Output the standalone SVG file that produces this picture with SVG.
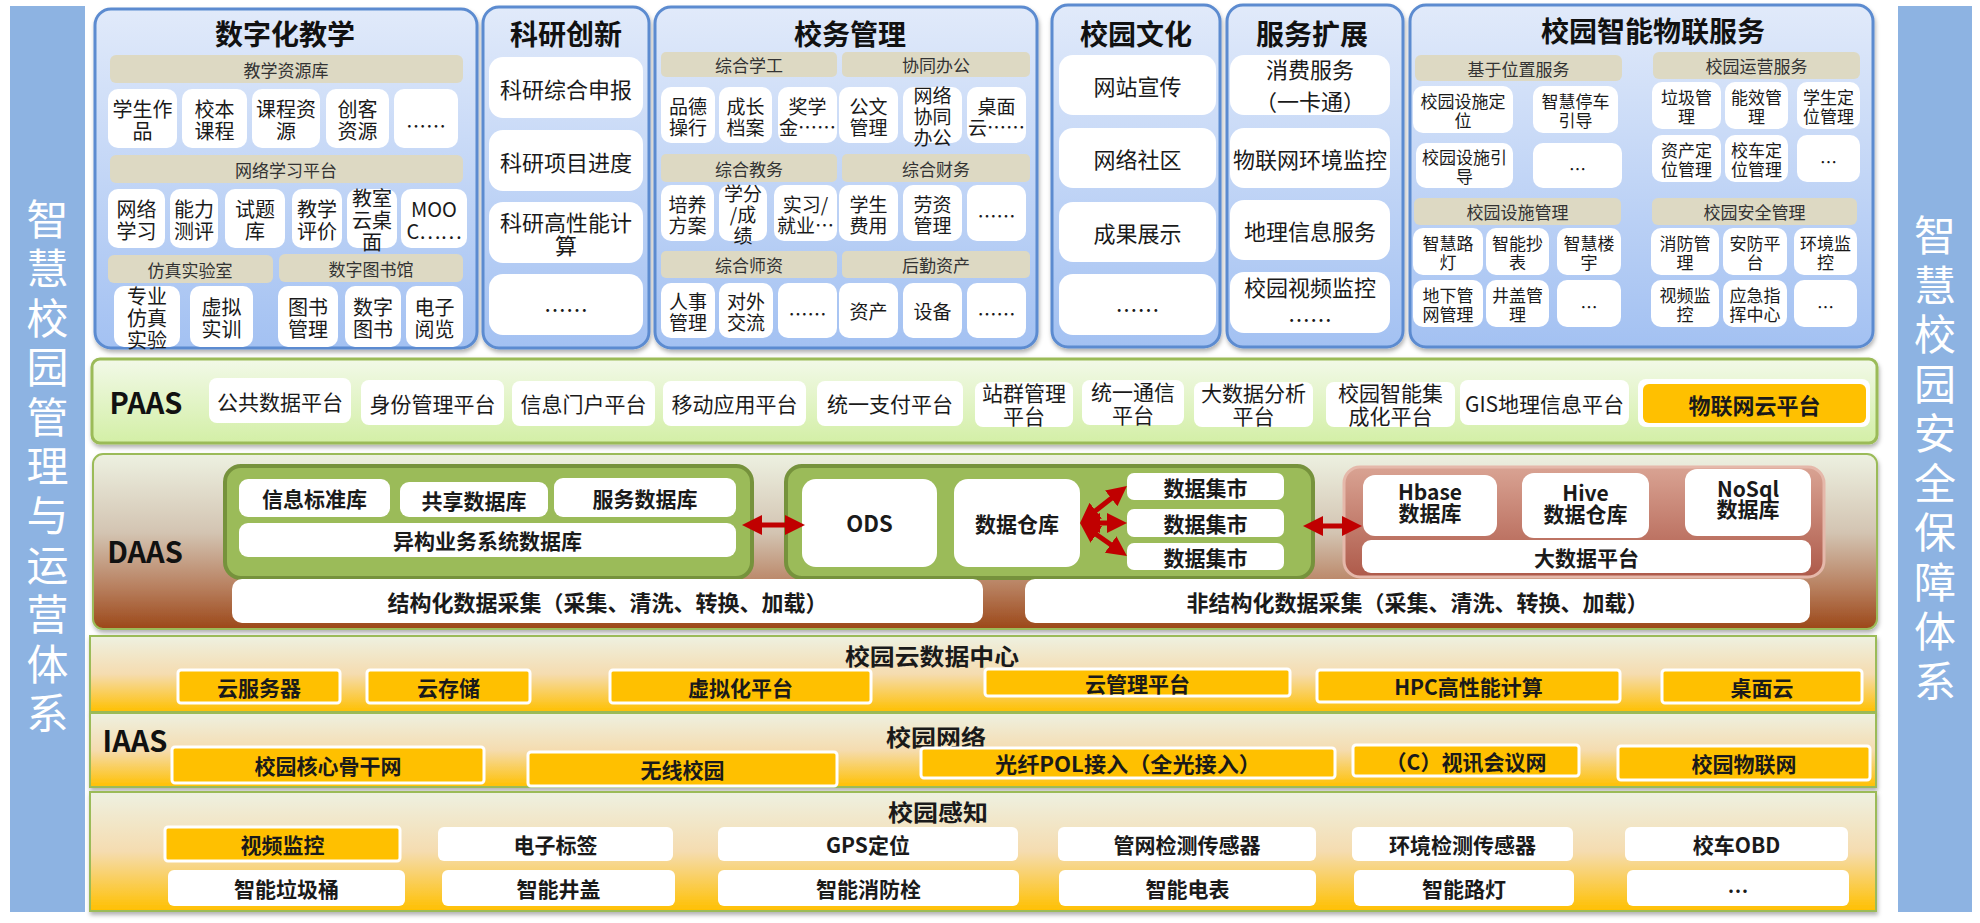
<svg xmlns="http://www.w3.org/2000/svg" width="1980" height="923" viewBox="0 0 1980 923">
<defs>
<linearGradient id="gApp" x1="0" y1="0" x2="0" y2="1"><stop offset="0" stop-color="#E1EAFA"/><stop offset="1" stop-color="#A3C1F2"/></linearGradient>
<linearGradient id="gPaas" x1="0" y1="0" x2="0" y2="1"><stop offset="0" stop-color="#F2F9E8"/><stop offset="1" stop-color="#D3EFA6"/></linearGradient>
<linearGradient id="gDaas" x1="0" y1="0" x2="0" y2="1"><stop offset="0" stop-color="#EDF1E1"/><stop offset="0.45" stop-color="#D3C4B2"/><stop offset="0.75" stop-color="#B98262"/><stop offset="1" stop-color="#9C4819"/></linearGradient>
<linearGradient id="gIaas" x1="0" y1="0" x2="0" y2="1"><stop offset="0" stop-color="#EEF1E1"/><stop offset="0.5" stop-color="#F5DCB0"/><stop offset="1" stop-color="#FFC000"/></linearGradient>
<linearGradient id="gRed" x1="0" y1="0" x2="0" y2="1"><stop offset="0" stop-color="#D9A393"/><stop offset="1" stop-color="#AE5A4A"/></linearGradient>
<filter id="sh" x="-5%" y="-5%" width="110%" height="115%"><feDropShadow dx="1" dy="3" stdDeviation="2" flood-color="#000" flood-opacity="0.3"/></filter>
<marker id="ah" viewBox="0 0 10 10" refX="5" refY="5" markerWidth="4" markerHeight="4" orient="auto-start-reverse" markerUnits="strokeWidth"><path d="M0,0 L10,5 L0,10 z" fill="#C00000"/></marker>
</defs>
<style>
text{font-family:"Noto Sans CJK SC","Noto Sans",sans-serif;fill:#1a1a1a;text-anchor:middle;dominant-baseline:central}
tspan{dominant-baseline:central}
.ttl{font-size:28px;font-weight:bold;fill:#111}
.hdr{font-size:17px;fill:#333}
.f20{font-size:20px}
.f19{font-size:19px}
.f22{font-size:22px}
.f17{font-size:17px}
.p21{font-size:21px}
.b21{font-size:21px;font-weight:bold}
.b22{font-size:22px;font-weight:bold}
.b23{font-size:23px;font-weight:bold}
.lbl{font-size:29px;font-weight:bold;fill:#111}
.side{font-size:42px;fill:#fff}
.app{fill:url(#gApp);stroke:#5B8BD0;stroke-width:3;filter:url(#sh)}
.w{fill:#fff}
.h{fill:#DDD9C3}
.y{fill:#FFC000;stroke:#fff;stroke-width:3}
.g{fill:#9BBB59;stroke:#76923C;stroke-width:4}
.band{fill:url(#gIaas);stroke:#9BBB59;stroke-width:2;filter:url(#sh)}
.arr{stroke:#C00000;stroke-width:5;fill:none;marker-start:url(#ah);marker-end:url(#ah)}
</style>
<rect width="1980" height="923" fill="#fff"/>

<!-- side bars -->
<g id="side-left">
<rect x="10" y="6" width="75" height="906" fill="#8DB3E2"/>
<text class="side"><tspan x="47.5" y="216">智</tspan><tspan x="47.5" y="265.4">慧</tspan><tspan x="47.5" y="314.8">校</tspan><tspan x="47.5" y="364.2">园</tspan><tspan x="47.5" y="413.6">管</tspan><tspan x="47.5" y="463">理</tspan><tspan x="47.5" y="512.4">与</tspan><tspan x="47.5" y="561.8">运</tspan><tspan x="47.5" y="611.2">营</tspan><tspan x="47.5" y="660.6">体</tspan><tspan x="47.5" y="710">系</tspan></text>
</g>
<g id="side-right">
<rect x="1898" y="6" width="74" height="906" fill="#8DB3E2"/>
<text class="side"><tspan x="1935" y="232">智</tspan><tspan x="1935" y="281.5">慧</tspan><tspan x="1935" y="331">校</tspan><tspan x="1935" y="380.5">园</tspan><tspan x="1935" y="430">安</tspan><tspan x="1935" y="479.5">全</tspan><tspan x="1935" y="529">保</tspan><tspan x="1935" y="578.5">障</tspan><tspan x="1935" y="628">体</tspan><tspan x="1935" y="677.5">系</tspan></text>
</g>

<!-- 数字化教学 -->
<g id="app-teaching">
<rect class="app" x="95" y="9" width="382" height="339" rx="16"/>
<text class="ttl" x="285" y="33">数字化教学</text>
<rect class="h" x="110" y="55" width="353" height="28" rx="6"/><text class="hdr" x="286" y="69">教学资源库</text>
<rect class="w" x="108" y="89" width="69" height="59" rx="10"/><text class="f20"><tspan x="142.5" y="107.5">学生作</tspan><tspan x="142.5" y="129.5">品</tspan></text>
<rect class="w" x="182" y="89" width="65" height="59" rx="10"/><text class="f20"><tspan x="214.5" y="107.5">校本</tspan><tspan x="214.5" y="129.5">课程</tspan></text>
<rect class="w" x="252" y="89" width="68" height="59" rx="10"/><text class="f20"><tspan x="286" y="107.5">课程资</tspan><tspan x="286" y="129.5">源</tspan></text>
<rect class="w" x="326" y="89" width="63" height="59" rx="10"/><text class="f20"><tspan x="357.5" y="107.5">创客</tspan><tspan x="357.5" y="129.5">资源</tspan></text>
<rect class="w" x="394" y="89" width="64" height="59" rx="10"/><text class="f20" x="426" y="125">……</text>
<rect class="h" x="110" y="155" width="353" height="28" rx="6"/><text class="hdr" x="286" y="169">网络学习平台</text>
<rect class="w" x="108" y="189" width="57" height="59" rx="10"/><text class="f20"><tspan x="136.5" y="207.5">网络</tspan><tspan x="136.5" y="229.5">学习</tspan></text>
<rect class="w" x="170" y="189" width="48" height="59" rx="10"/><text class="f20"><tspan x="194" y="207.5">能力</tspan><tspan x="194" y="229.5">测评</tspan></text>
<rect class="w" x="225" y="189" width="60" height="59" rx="10"/><text class="f20"><tspan x="255" y="207.5">试题</tspan><tspan x="255" y="229.5">库</tspan></text>
<rect class="w" x="292" y="189" width="50" height="59" rx="10"/><text class="f20"><tspan x="317" y="207.5">教学</tspan><tspan x="317" y="229.5">评价</tspan></text>
<rect class="w" x="347" y="189" width="50" height="59" rx="10"/><text class="f20"><tspan x="372" y="196.5">教室</tspan><tspan x="372" y="218.5">云桌</tspan><tspan x="372" y="240.5">面</tspan></text>
<rect class="w" x="401" y="189" width="66" height="59" rx="10"/><text class="f20"><tspan x="434" y="207.5">MOO</tspan><tspan x="434" y="229.5">C……</tspan></text>
<rect class="h" x="108" y="255" width="165" height="28" rx="6"/><text class="hdr" x="190" y="269">仿真实验室</text>
<rect class="h" x="279" y="254" width="184" height="28" rx="6"/><text class="hdr" x="371" y="268">数字图书馆</text>
<rect class="w" x="114" y="286" width="66" height="61" rx="10"/><text class="f20"><tspan x="147" y="294.5">专业</tspan><tspan x="147" y="316.5">仿真</tspan><tspan x="147" y="338.5">实验</tspan></text>
<rect class="w" x="190" y="286" width="63" height="61" rx="10"/><text class="f20"><tspan x="221.5" y="305.5">虚拟</tspan><tspan x="221.5" y="327.5">实训</tspan></text>
<rect class="w" x="278" y="286" width="60" height="61" rx="10"/><text class="f20"><tspan x="308" y="305.5">图书</tspan><tspan x="308" y="327.5">管理</tspan></text>
<rect class="w" x="345" y="286" width="56" height="61" rx="10"/><text class="f20"><tspan x="373" y="305.5">数字</tspan><tspan x="373" y="327.5">图书</tspan></text>
<rect class="w" x="406" y="286" width="57" height="61" rx="10"/><text class="f20"><tspan x="434.5" y="305.5">电子</tspan><tspan x="434.5" y="327.5">阅览</tspan></text>
</g>

<!-- 科研创新 -->
<g id="app-research">
<rect class="app" x="483" y="7" width="166" height="341" rx="16"/>
<text class="ttl" x="566" y="33">科研创新</text>
<rect class="w" x="489" y="57" width="154" height="61" rx="14"/><text class="f22" x="566" y="87.5">科研综合申报</text>
<rect class="w" x="489" y="130" width="154" height="61" rx="14"/><text class="f22" x="566" y="160.5">科研项目进度</text>
<rect class="w" x="489" y="202" width="154" height="61" rx="14"/><text class="f22"><tspan x="566" y="221">科研高性能计</tspan><tspan x="566" y="244">算</tspan></text>
<rect class="w" x="489" y="274" width="154" height="61" rx="14"/><text class="f22" x="566" y="308">……</text>
</g>

<!-- 校务管理 -->
<g id="app-admin">
<rect class="app" x="655" y="7" width="382" height="341" rx="16"/>
<text class="ttl" x="850" y="33">校务管理</text>
<rect class="h" x="661" y="52" width="176" height="25" rx="5"/><text class="hdr" x="749" y="64.5">综合学工</text>
<rect class="h" x="842" y="52" width="188" height="25" rx="5"/><text class="hdr" x="936" y="64.5">协同办公</text>
<rect class="w" x="661" y="87" width="54" height="56" rx="10"/><text class="f19"><tspan x="688" y="104.5">品德</tspan><tspan x="688" y="125.5">操行</tspan></text>
<rect class="w" x="719" y="87" width="53" height="56" rx="10"/><text class="f19"><tspan x="745.5" y="104.5">成长</tspan><tspan x="745.5" y="125.5">档案</tspan></text>
<rect class="w" x="778" y="87" width="59" height="56" rx="10"/><text class="f19"><tspan x="807.5" y="104.5">奖学</tspan><tspan x="807.5" y="125.5">金……</tspan></text>
<rect class="w" x="839" y="87" width="59" height="56" rx="10"/><text class="f19"><tspan x="868.5" y="104.5">公文</tspan><tspan x="868.5" y="125.5">管理</tspan></text>
<rect class="w" x="903" y="87" width="59" height="56" rx="10"/><text class="f19"><tspan x="932.5" y="94">网络</tspan><tspan x="932.5" y="115">协同</tspan><tspan x="932.5" y="136">办公</tspan></text>
<rect class="w" x="967" y="87" width="59" height="56" rx="10"/><text class="f19"><tspan x="996.5" y="104.5">桌面</tspan><tspan x="996.5" y="125.5">云……</tspan></text>
<rect class="h" x="661" y="154" width="176" height="28" rx="5"/><text class="hdr" x="749" y="168">综合教务</text>
<rect class="h" x="842" y="154" width="188" height="28" rx="5"/><text class="hdr" x="936" y="168">综合财务</text>
<rect class="w" x="661" y="185" width="53" height="56" rx="10"/><text class="f19"><tspan x="687.5" y="202.5">培养</tspan><tspan x="687.5" y="223.5">方案</tspan></text>
<rect class="w" x="719" y="185" width="48" height="56" rx="10"/><text class="f19"><tspan x="743" y="192">学分</tspan><tspan x="743" y="213">/成</tspan><tspan x="743" y="234">绩</tspan></text>
<rect class="w" x="774" y="185" width="63" height="56" rx="10"/><text class="f19"><tspan x="805.5" y="202.5">实习/</tspan><tspan x="805.5" y="223.5">就业…</tspan></text>
<rect class="w" x="839" y="185" width="59" height="56" rx="10"/><text class="f19"><tspan x="868.5" y="202.5">学生</tspan><tspan x="868.5" y="223.5">费用</tspan></text>
<rect class="w" x="903" y="185" width="59" height="56" rx="10"/><text class="f19"><tspan x="932.5" y="202.5">劳资</tspan><tspan x="932.5" y="223.5">管理</tspan></text>
<rect class="w" x="967" y="185" width="59" height="56" rx="10"/><text class="f19" x="996.5" y="215">……</text>
<rect class="h" x="661" y="251" width="176" height="27" rx="5"/><text class="hdr" x="749" y="264.5">综合师资</text>
<rect class="h" x="842" y="251" width="188" height="27" rx="5"/><text class="hdr" x="936" y="264.5">后勤资产</text>
<rect class="w" x="661" y="283" width="54" height="55" rx="10"/><text class="f19"><tspan x="688" y="300">人事</tspan><tspan x="688" y="321">管理</tspan></text>
<rect class="w" x="719" y="283" width="54" height="55" rx="10"/><text class="f19"><tspan x="746" y="300">对外</tspan><tspan x="746" y="321">交流</tspan></text>
<rect class="w" x="778" y="283" width="59" height="55" rx="10"/><text class="f19" x="807.5" y="313">……</text>
<rect class="w" x="839" y="283" width="59" height="55" rx="10"/><text class="f19" x="868.5" y="310.5">资产</text>
<rect class="w" x="903" y="283" width="59" height="55" rx="10"/><text class="f19" x="932.5" y="310.5">设备</text>
<rect class="w" x="967" y="283" width="59" height="55" rx="10"/><text class="f19" x="996.5" y="313">……</text>
</g>

<!-- 校园文化 -->
<g id="app-culture">
<rect class="app" x="1052" y="5" width="168" height="342" rx="16"/>
<text class="ttl" x="1136" y="33">校园文化</text>
<rect class="w" x="1059" y="55" width="157" height="60" rx="14"/><text class="f22" x="1137.5" y="85">网站宣传</text>
<rect class="w" x="1059" y="128" width="157" height="60" rx="14"/><text class="f22" x="1137.5" y="158">网络社区</text>
<rect class="w" x="1059" y="202" width="157" height="60" rx="14"/><text class="f22" x="1137.5" y="232">成果展示</text>
<rect class="w" x="1059" y="274" width="157" height="61" rx="14"/><text class="f22" x="1137.5" y="308">……</text>
</g>

<!-- 服务扩展 -->
<g id="app-service">
<rect class="app" x="1227" y="5" width="176" height="342" rx="16"/>
<text class="ttl" x="1312" y="33">服务扩展</text>
<rect class="w" x="1230" y="55" width="160" height="60" rx="14"/><text class="f22"><tspan x="1310" y="68">消费服务</tspan><tspan x="1310" y="100">（一卡通）</tspan></text>
<rect class="w" x="1230" y="128" width="160" height="60" rx="14"/><text class="f22" x="1310" y="158">物联网环境监控</text>
<rect class="w" x="1230" y="200" width="160" height="60" rx="14"/><text class="f22" x="1310" y="230">地理信息服务</text>
<rect class="w" x="1230" y="272" width="160" height="61" rx="14"/><text class="f22"><tspan x="1310" y="286">校园视频监控</tspan><tspan x="1310" y="318">……</tspan></text>
</g>

<!-- 校园智能物联服务 -->
<g id="app-iot">
<rect class="app" x="1410" y="5" width="463" height="342" rx="16"/>
<text class="ttl" x="1653" y="30">校园智能物联服务</text>
<rect class="h" x="1415" y="55" width="207" height="26" rx="6"/><text class="hdr" x="1518.5" y="68">基于位置服务</text>
<rect class="h" x="1653" y="52" width="207" height="27" rx="6"/><text class="hdr" x="1756.5" y="65.5">校园运营服务</text>
<rect class="w" x="1413" y="86" width="100" height="47" rx="10"/><text class="f17"><tspan x="1463" y="100.3">校园设施定</tspan><tspan x="1463" y="118.8">位</tspan></text>
<rect class="w" x="1533" y="86" width="85" height="47" rx="10"/><text class="f17"><tspan x="1575.5" y="100.3">智慧停车</tspan><tspan x="1575.5" y="118.8">引导</tspan></text>
<rect class="w" x="1416" y="143" width="97" height="45" rx="10"/><text class="f17"><tspan x="1464.5" y="156.3">校园设施引</tspan><tspan x="1464.5" y="174.8">导</tspan></text>
<rect class="w" x="1533" y="143" width="89" height="45" rx="10"/><text class="f17" x="1577.5" y="168">…</text>
<rect class="w" x="1652" y="82" width="69" height="47" rx="10"/><text class="f17"><tspan x="1686.5" y="96.3">垃圾管</tspan><tspan x="1686.5" y="114.8">理</tspan></text>
<rect class="w" x="1725" y="82" width="63" height="47" rx="10"/><text class="f17"><tspan x="1756.5" y="96.3">能效管</tspan><tspan x="1756.5" y="114.8">理</tspan></text>
<rect class="w" x="1797" y="82" width="63" height="47" rx="10"/><text class="f17"><tspan x="1828.5" y="96.3">学生定</tspan><tspan x="1828.5" y="114.8">位管理</tspan></text>
<rect class="w" x="1652" y="135" width="69" height="47" rx="10"/><text class="f17"><tspan x="1686.5" y="149.3">资产定</tspan><tspan x="1686.5" y="167.8">位管理</tspan></text>
<rect class="w" x="1725" y="135" width="63" height="47" rx="10"/><text class="f17"><tspan x="1756.5" y="149.3">校车定</tspan><tspan x="1756.5" y="167.8">位管理</tspan></text>
<rect class="w" x="1797" y="135" width="63" height="47" rx="10"/><text class="f17" x="1828.5" y="161">…</text>
<rect class="h" x="1414" y="198" width="207" height="27" rx="6"/><text class="hdr" x="1517.5" y="211.5">校园设施管理</text>
<rect class="h" x="1652" y="198" width="205" height="27" rx="6"/><text class="hdr" x="1754.5" y="211.5">校园安全管理</text>
<rect class="w" x="1413" y="228" width="70" height="47" rx="10"/><text class="f17"><tspan x="1448" y="242.3">智慧路</tspan><tspan x="1448" y="260.8">灯</tspan></text>
<rect class="w" x="1486" y="228" width="63" height="47" rx="10"/><text class="f17"><tspan x="1517.5" y="242.3">智能抄</tspan><tspan x="1517.5" y="260.8">表</tspan></text>
<rect class="w" x="1557" y="228" width="64" height="47" rx="10"/><text class="f17"><tspan x="1589" y="242.3">智慧楼</tspan><tspan x="1589" y="260.8">宇</tspan></text>
<rect class="w" x="1413" y="280" width="70" height="47" rx="10"/><text class="f17"><tspan x="1448" y="294.3">地下管</tspan><tspan x="1448" y="312.8">网管理</tspan></text>
<rect class="w" x="1486" y="280" width="63" height="47" rx="10"/><text class="f17"><tspan x="1517.5" y="294.3">井盖管</tspan><tspan x="1517.5" y="312.8">理</tspan></text>
<rect class="w" x="1557" y="280" width="64" height="47" rx="10"/><text class="f17" x="1589" y="306">…</text>
<rect class="w" x="1651" y="228" width="68" height="47" rx="10"/><text class="f17"><tspan x="1685" y="242.3">消防管</tspan><tspan x="1685" y="260.8">理</tspan></text>
<rect class="w" x="1723" y="228" width="64" height="47" rx="10"/><text class="f17"><tspan x="1755" y="242.3">安防平</tspan><tspan x="1755" y="260.8">台</tspan></text>
<rect class="w" x="1794" y="228" width="63" height="47" rx="10"/><text class="f17"><tspan x="1825.5" y="242.3">环境监</tspan><tspan x="1825.5" y="260.8">控</tspan></text>
<rect class="w" x="1651" y="280" width="68" height="47" rx="10"/><text class="f17"><tspan x="1685" y="294.3">视频监</tspan><tspan x="1685" y="312.8">控</tspan></text>
<rect class="w" x="1723" y="280" width="64" height="47" rx="10"/><text class="f17"><tspan x="1755" y="294.3">应急指</tspan><tspan x="1755" y="312.8">挥中心</tspan></text>
<rect class="w" x="1794" y="280" width="63" height="47" rx="10"/><text class="f17" x="1825.5" y="306">…</text>
</g>

<!-- PAAS -->
<g id="paas">
<rect x="92" y="359" width="1785" height="84" rx="8" fill="url(#gPaas)" stroke="#9BBB59" stroke-width="3" filter="url(#sh)"/>
<text class="lbl" x="146" y="401">PAAS</text>
<g id="paas-1"><rect class="w" x="209" y="378" width="142" height="45" rx="8"/><text class="p21" x="280" y="400.5">公共数据平台</text></g>
<g id="paas-2"><rect class="w" x="361" y="380" width="143" height="45" rx="8"/><text class="p21" x="432.5" y="402.5">身份管理平台</text></g>
<g id="paas-3"><rect class="w" x="512" y="381" width="143" height="45" rx="8"/><text class="p21" x="583.5" y="403">信息门户平台</text></g>
<g id="paas-4"><rect class="w" x="663" y="381" width="143" height="45" rx="8"/><text class="p21" x="734.5" y="403">移动应用平台</text></g>
<g id="paas-5"><rect class="w" x="817" y="381" width="146" height="45" rx="8"/><text class="p21" x="890" y="403">统一支付平台</text></g>
<g id="paas-6"><rect class="w" x="975" y="382" width="98" height="45" rx="8"/><text class="p21"><tspan x="1024" y="392">站群管理</tspan><tspan x="1024" y="415">平台</tspan></text></g>
<g id="paas-7"><rect class="w" x="1082" y="380" width="102" height="45" rx="8"/><text class="p21"><tspan x="1133" y="391">统一通信</tspan><tspan x="1133" y="414">平台</tspan></text></g>
<g id="paas-8"><rect class="w" x="1194" y="382" width="119" height="45" rx="8"/><text class="p21"><tspan x="1253.5" y="392">大数据分析</tspan><tspan x="1253.5" y="415">平台</tspan></text></g>
<g id="paas-9"><rect class="w" x="1326" y="382" width="129" height="45" rx="8"/><text class="p21"><tspan x="1390.5" y="392">校园智能集</tspan><tspan x="1390.5" y="415">成化平台</tspan></text></g>
<g id="paas-10"><rect class="w" x="1460" y="380" width="169" height="45" rx="8"/><text class="p21" x="1544.5" y="402.5">GIS地理信息平台</text></g>
<g id="paas-11"><rect class="w" x="1638" y="379" width="232" height="48" rx="8"/><rect x="1643" y="384" width="223" height="39" rx="6" fill="#FFC000"/><text class="b22" x="1754.5" y="403.5">物联网云平台</text></g>
</g>

<!-- DAAS -->
<g id="daas">
<rect x="93" y="454" width="1784" height="175" rx="10" fill="url(#gDaas)" stroke="#9BBB59" stroke-width="2" filter="url(#sh)"/>
<text class="lbl" x="145" y="550">DAAS</text>
</g>
<g id="daas-db">
<rect class="g" x="225" y="466" width="527" height="112" rx="16"/>
<rect class="w" x="239" y="479" width="151" height="38" rx="9"/><text class="b21" x="314.5" y="498">信息标准库</text>
<rect class="w" x="400" y="482" width="148" height="35" rx="9"/><text class="b21" x="474" y="499.5">共享数据库</text>
<rect class="w" x="554" y="478" width="182" height="39" rx="9"/><text class="b21" x="645" y="497.5">服务数据库</text>
<rect class="w" x="239" y="523" width="497" height="34" rx="9"/><text class="b21" x="487.5" y="540">异构业务系统数据库</text>
</g>
<g id="daas-dw">
<rect class="g" x="786" y="466" width="527" height="112" rx="16"/>
<g id="ods"><rect class="w" x="802" y="479" width="135" height="88" rx="14"/><text class="b22" x="869.5" y="522">ODS</text></g>
<g id="dw"><rect class="w" x="954" y="479" width="126" height="88" rx="14"/><text class="b21" x="1017" y="523">数据仓库</text></g>
<g id="mart-1"><rect class="w" x="1127" y="473" width="157" height="27" rx="7"/><text class="b21" x="1205.5" y="486.5">数据集市</text></g>
<g id="mart-2"><rect class="w" x="1127" y="509" width="157" height="28" rx="7"/><text class="b21" x="1205.5" y="523">数据集市</text></g>
<g id="mart-3"><rect class="w" x="1127" y="543" width="157" height="27" rx="7"/><text class="b21" x="1205.5" y="556.5">数据集市</text></g>
</g>
<g id="daas-bigdata">
<rect x="1344" y="467" width="480" height="110" rx="16" fill="url(#gRed)" stroke="#E5B8AA" stroke-width="3"/>
<g id="hbase"><rect class="w" x="1363" y="475" width="134" height="61" rx="12"/><text class="b21"><tspan x="1430" y="491">Hbase</tspan><tspan x="1430" y="512">数据库</tspan></text></g>
<g id="hive"><rect class="w" x="1522" y="473" width="127" height="65" rx="12"/><text class="b21"><tspan x="1585.5" y="492">Hive</tspan><tspan x="1585.5" y="513">数据仓库</tspan></text></g>
<g id="nosql"><rect class="w" x="1685" y="469" width="126" height="67" rx="12"/><text class="b21"><tspan x="1748" y="488">NoSql</tspan><tspan x="1748" y="508">数据库</tspan></text></g>
<g id="bigdata"><rect class="w" x="1362" y="540" width="449" height="33" rx="9"/><text class="b21" x="1586.5" y="556.5">大数据平台</text></g>
</g>
<g id="collect-struct"><rect class="w" x="232" y="579" width="751" height="44" rx="10"/><text class="b22" x="607.5" y="601">结构化数据采集（采集、清洗、转换、加载）</text></g>
<g id="collect-unstruct"><rect class="w" x="1025" y="579" width="785" height="44" rx="10"/><text class="b22" x="1417.5" y="601">非结构化数据采集（采集、清洗、转换、加载）</text></g>

<!-- connectors -->
<g id="connectors">
<line class="arr" x1="752" y1="525" x2="795" y2="525"/>
<line class="arr" x1="1087.9" y1="516.8" x2="1119.1" y2="492.2"/>
<line class="arr" x1="1090" y1="523" x2="1117" y2="523"/>
<line class="arr" x1="1088.2" y1="528.7" x2="1118.8" y2="550.3"/>
<line class="arr" x1="1313" y1="526" x2="1352" y2="526"/>
</g>

<!-- IAAS: 校园云数据中心 -->
<g id="iaas-dc">
<rect class="band" x="90" y="636" width="1786" height="76"/>
<text class="b23" x="932" y="655" textLength="174" lengthAdjust="spacingAndGlyphs">校园云数据中心</text>
<g id="dc-1"><rect class="y" x="178" y="670" width="162" height="33" rx="3"/><text class="b21" x="259" y="686.5">云服务器</text></g>
<g id="dc-2"><rect class="y" x="367" y="670" width="163" height="33" rx="3"/><text class="b21" x="448.5" y="686.5">云存储</text></g>
<g id="dc-3"><rect class="y" x="610" y="670" width="261" height="33" rx="3"/><text class="b21" x="740.5" y="686.5">虚拟化平台</text></g>
<g id="dc-4"><rect class="y" x="985" y="669" width="305" height="27" rx="3"/><text class="b21" x="1137.5" y="682.5">云管理平台</text></g>
<g id="dc-5"><rect class="y" x="1317" y="670" width="303" height="32" rx="3"/><text class="b21" x="1468.5" y="686">HPC高性能计算</text></g>
<g id="dc-6"><rect class="y" x="1662" y="670" width="200" height="33" rx="3"/><text class="b21" x="1762" y="686.5">桌面云</text></g>
</g>

<!-- IAAS: 校园网络 -->
<g id="iaas-net">
<rect class="band" x="90" y="713" width="1786" height="74"/>
<text class="lbl" x="135" y="739">IAAS</text>
<text class="b23" x="936" y="736" textLength="100" lengthAdjust="spacingAndGlyphs">校园网络</text>
<g id="net-1"><rect class="y" x="172" y="747" width="312" height="36" rx="3"/><text class="b21" x="328" y="765">校园核心骨干网</text></g>
<g id="net-2"><rect class="y" x="528" y="752" width="309" height="34" rx="3"/><text class="b21" x="682.5" y="769">无线校园</text></g>
<g id="net-3"><rect class="y" x="921" y="748" width="414" height="30" rx="3"/><text class="b21" x="1128" y="763" textLength="266" lengthAdjust="spacingAndGlyphs">光纤POL接入（全光接入）</text></g>
<g id="net-4"><rect class="y" x="1353" y="745" width="226" height="31" rx="3"/><text class="b21" x="1466" y="760.5">（C）视讯会议网</text></g>
<g id="net-5"><rect class="y" x="1618" y="746" width="252" height="34" rx="3"/><text class="b21" x="1744" y="763">校园物联网</text></g>
</g>

<!-- IAAS: 校园感知 -->
<g id="iaas-sense">
<rect class="band" x="90" y="792" width="1786" height="119"/>
<text class="b23" x="938" y="811" textLength="100" lengthAdjust="spacingAndGlyphs">校园感知</text>
<g id="s-1"><rect class="y" x="165" y="827" width="235" height="34" rx="3"/><text class="b21" x="282.5" y="844">视频监控</text></g>
<g id="s-2"><rect class="w" x="438" y="827" width="235" height="34" rx="6"/><text class="b21" x="555.5" y="844">电子标签</text></g>
<g id="s-3"><rect class="w" x="718" y="827" width="300" height="34" rx="6"/><text class="b21" x="868" y="844">GPS定位</text></g>
<g id="s-4"><rect class="w" x="1058" y="827" width="258" height="34" rx="6"/><text class="b21" x="1187" y="844">管网检测传感器</text></g>
<g id="s-5"><rect class="w" x="1352" y="827" width="221" height="34" rx="6"/><text class="b21" x="1462.5" y="844">环境检测传感器</text></g>
<g id="s-6"><rect class="w" x="1625" y="827" width="223" height="34" rx="6"/><text class="b21" x="1736.5" y="844">校车OBD</text></g>
<g id="s-7"><rect class="w" x="168" y="870" width="237" height="36" rx="6"/><text class="b21" x="286.5" y="888">智能垃圾桶</text></g>
<g id="s-8"><rect class="w" x="442" y="870" width="233" height="36" rx="6"/><text class="b21" x="558.5" y="888">智能井盖</text></g>
<g id="s-9"><rect class="w" x="718" y="870" width="301" height="36" rx="6"/><text class="b21" x="868.5" y="888">智能消防栓</text></g>
<g id="s-10"><rect class="w" x="1059" y="870" width="257" height="36" rx="6"/><text class="b21" x="1187.5" y="888">智能电表</text></g>
<g id="s-11"><rect class="w" x="1354" y="870" width="220" height="36" rx="6"/><text class="b21" x="1464" y="888">智能路灯</text></g>
<g id="s-12"><rect class="w" x="1627" y="870" width="222" height="36" rx="6"/><text class="b21" x="1738" y="890">…</text></g>
</g>
</svg>
